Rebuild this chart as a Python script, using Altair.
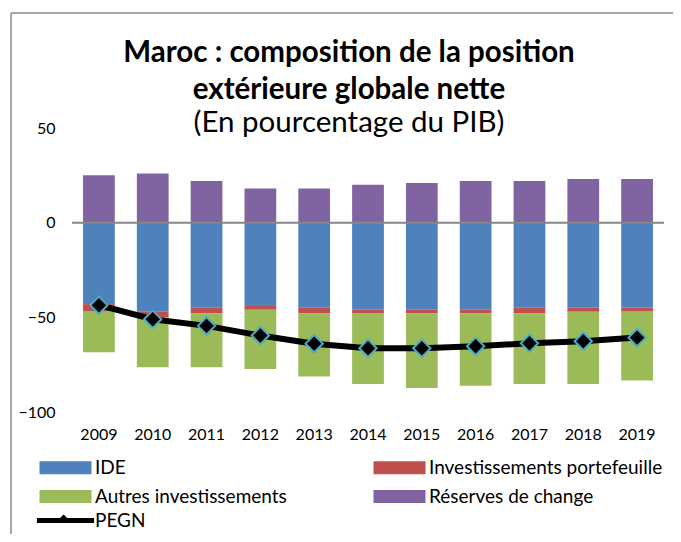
import altair as alt
import pandas as pd

years = ["2009", "2010", "2011", "2012", "2013", "2014", "2015", "2016", "2017", "2018", "2019"]
categories = ["IDE", "Investissements portefeuille", "Autres investissements", "Réserves de change"]
ide = [-43, -47, -45, -44, -45, -46, -46, -46, -45, -45, -45]
portefeuille = [-4, -3, -3, -2, -3, -2, -2, -2, -3, -2, -2]
autres = [-21.5, -26.4, -28.4, -31.3, -33.3, -37.2, -39.3, -38.2, -37.2, -38.2, -36.3]
reserves = [25, 26, 22, 18, 18, 20, 21, 22, 22, 23, 23]
pegn = [-43.6, -51, -54.5, -59.6, -63.9, -66.3, -66.3, -65.3, -63.7, -62.6, -60.7]
colors = ["#4f81bd", "#c0504d", "#9bbb59", "#8064a2"]
y_ticks = [50, 0, -50, -100]

rows = []
for i, yr in enumerate(years):
    for k, (cat, vals) in enumerate(zip(categories, [ide, portefeuille, autres, reserves])):
        rows.append({"annee": yr, "composante": cat, "valeur": vals[i], "ordre": k})
bars_df = pd.DataFrame(rows)
line_df = pd.DataFrame({"annee": years, "PEGN": pegn, "serie": ["PEGN"] * len(years),
                        "marqueur": ["PEGN"] * len(years)})

FONT = "Lato"
x_enc = alt.X("annee:N", sort=years, title=None,
              scale=alt.Scale(paddingInner=0.41, paddingOuter=0.205),
              axis=alt.Axis(labelAngle=0, domain=False, ticks=False, grid=False, labelPadding=14,
                            labelFont=FONT, labelFontSize=16, labelColor="black"))
y_axis = alt.Axis(values=y_ticks, domain=False, ticks=False, grid=False, labelPadding=17,
                  labelFont=FONT, labelFontSize=16, labelColor="black")
y_scale = alt.Scale(domain=[-100, 50], nice=False)

LX = -16
LY = 330
LEG_FS = 19

bars = alt.Chart(bars_df).mark_bar().encode(
    x=x_enc,
    y=alt.Y("valeur:Q", title=None, scale=y_scale, axis=y_axis),
    color=alt.Color("composante:N", sort=categories,
                    scale=alt.Scale(domain=categories, range=colors),
                    legend=alt.Legend(title=None, orient="none", legendX=LX, legendY=LY,
                                      direction="horizontal", columns=2, columnPadding=86,
                                      rowPadding=9, labelLimit=400,
                                      symbolType="M-4,-1H4V1H-4Z", symbolSize=169,
                                      symbolStrokeWidth=0, labelOffset=20,
                                      labelFont=FONT, labelFontSize=LEG_FS, labelColor="black",
                                      padding=0)),
    order=alt.Order("ordre:Q"),
)

zero = alt.Chart(pd.DataFrame({"zero": [0]})).mark_rule(color="#868686", strokeWidth=2).encode(
    y=alt.Y("zero:Q", title=None, scale=y_scale, axis=y_axis)
)

line = alt.Chart(line_df).mark_line(strokeWidth=6).encode(
    x=x_enc,
    y=alt.Y("PEGN:Q", title=None, scale=y_scale, axis=y_axis),
    stroke=alt.Stroke("serie:N", scale=alt.Scale(range=["black"]),
                      legend=alt.Legend(title=None, orient="none", legendX=LX, legendY=LY + 53,
                                        symbolType="M-4.4,0H4.4", symbolSize=169,
                                        symbolStrokeWidth=5, symbolStrokeColor="black",
                                        labelOffset=20, labelFont=FONT, labelFontSize=LEG_FS,
                                        labelColor="black", padding=0, zindex=0)),
)

points = alt.Chart(line_df).mark_point(filled=True, size=300, fill="black", stroke="#4bacc6",
                                       strokeWidth=2, opacity=1).encode(
    x=x_enc,
    y=alt.Y("PEGN:Q", title=None, scale=y_scale, axis=y_axis),
    shape=alt.Shape("marqueur:N", scale=alt.Scale(range=["diamond"]),
                    legend=alt.Legend(title=None, orient="none", legendX=LX + 2.6, legendY=LY + 53 + 2.6,
                                      symbolSize=64, symbolFillColor="black",
                                      symbolStrokeColor="#4bacc6", symbolStrokeWidth=1.5,
                                      labelExpr="''", labelFontSize=1, padding=0, zindex=1)),
)

frame_top = alt.Chart(pd.DataFrame({"cadre": [0]})).mark_rule(color="#8a8a8a", strokeWidth=1.5).encode(
    x=alt.value(-61), x2=alt.value(700), y=alt.value(-115)
)
frame_left = alt.Chart(pd.DataFrame({"cadre": [0]})).mark_rule(color="#8a8a8a", strokeWidth=1.5).encode(
    x=alt.value(-61), y=alt.value(-115), y2=alt.value(500)
)

chart = alt.layer(frame_top, frame_left, bars, zero, line, points).properties(
    width=592, height=284,
    padding={"left": 64, "top": 120, "right": 9, "bottom": 122},
    autosize="none",
    background="white",
    title=alt.TitleParams(
        text=["Maroc : composition de la position", "extérieure globale nette"],
        subtitle="(En pourcentage du PIB)",
        font=FONT, fontSize=29.5, fontWeight="bold", color="black",
        subtitleFont=FONT, subtitleFontSize=29.5, subtitleFontWeight="normal", subtitleColor="black",
        anchor="middle", frame="group", offset=-126, dx=-19, lineHeight=37, subtitlePadding=3,
    ),
).configure_view(stroke=None)

chart.save("out.html", embed_options={"renderer": "svg", "actions": False})
